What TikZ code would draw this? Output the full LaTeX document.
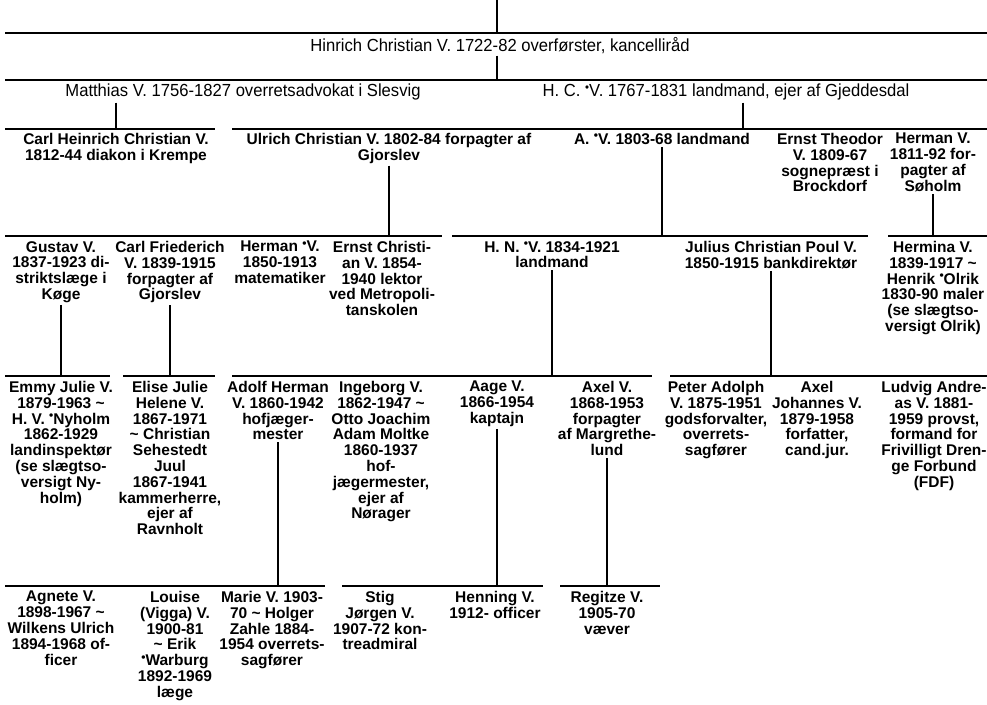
\documentclass[tikz,border=0pt]{standalone}
\usepackage{fontspec}
\setmainfont{Liberation Sans}
\newfontfamily\headfont[FakeStretch=0.95]{Liberation Sans}
\newcommand{\dotmark}{\smash{\raisebox{.55ex}{\fontsize{12}{12}\selectfont•}}}
\newcommand{\marr}{\textasciitilde}
\tikzset{
	person/.style={align=center, anchor=north, inner sep=2pt, font=\fontsize{15.5}{15.8}\selectfont\bfseries},
	head/.style={anchor=north, inner sep=2pt, font=\headfont\fontsize{17.5}{18}\selectfont},
	bar/.style={line width=1.8pt},
	link/.style={line width=1.2pt}
}
\begin{document}
\begin{tikzpicture}[x=1pt,y=-1pt]
	\useasboundingbox[fill=white] (0,0) rectangle (987,704);
	% generation bars
	\coordinate (L1) at (0,33);
	\coordinate (L2) at (0,80);
	\coordinate (L3) at (0,129);
	\coordinate (L4) at (0,236);
	\coordinate (L5) at (0,376);
	\coordinate (L6) at (0,586);
	\draw[bar] (5,33)--(987,33);
	\draw[bar] (5,80)--(987,80);
	\draw[bar] (5,129)--(215,129);
	\draw[bar] (232,129)--(987,129);
	\draw[bar] (5,236)--(442,236);
	\draw[bar] (452,236)--(868,236);
	\draw[bar] (888,236)--(987,236);
	\draw[bar] (5,376)--(110,376);
	\draw[bar] (123,376)--(215,376);
	\draw[bar] (232,376)--(652,376);
	\draw[bar] (670,376)--(987,376);
	\draw[bar] (5,586)--(325,586);
	\draw[bar] (342,586)--(543,586);
	\draw[bar] (560,586)--(660,586);

	% persons
	\node[head] (hinrich) at (500,35) {Hinrich Christian V. 1722-82 overførster, kancelliråd};
	\node[head] (matthias) at (243,82) {Matthias V. 1756-1827 overretsadvokat i Slesvig};
	\node[head] (hc) at (726,82) {H. C. \dotmark{}V. 1767-1831 landmand, ejer af Gjeddesdal};

	\node[person] (carlh) at (116,131) {Carl Heinrich Christian V.\\1812-44 diakon i Krempe};
	\node[person] (ulrich) at (389,131) {Ulrich Christian V. 1802-84 forpagter af\\Gjorslev};
	\node[person] (aa) at (662,131) {A. \dotmark{}V. 1803-68 landmand};
	\node[person] (ernstt) at (830,131) {Ernst Theodor\\V. 1809-67\\sognepræst i\\Brockdorf};
	\node[person] (herman) at (933,131) {Herman V.\\1811-92 for-\\pagter af\\Søholm};

	\node[person] (gustav) at (61,239) {Gustav V.\\1837-1923 di-\\striktslæge i\\Køge};
	\node[person] (carlf) at (170,239) {Carl Friederich\\V. 1839-1915\\forpagter af\\Gjorslev};
	\node[person] (hermanv) at (280,239) {Herman \dotmark{}V.\\1850-1913\\matematiker};
	\node[person] (ernstc) at (382,239) {Ernst Christi-\\an V. 1854-\\1940 lektor\\ved Metropoli-\\tanskolen};
	\node[person] (hn) at (552,239) {H. N. \dotmark{}V. 1834-1921\\landmand};
	\node[person] (julius) at (771,239) {Julius Christian Poul V.\\1850-1915 bankdirektør};
	\node[person] (hermina) at (933,239) {Hermina V.\\1839-1917 \marr\\Henrik \dotmark{}Olrik\\1830-90 maler\\(se slægtso-\\versigt Olrik)};

	\node[person] (emmy) at (61,379) {Emmy Julie V.\\1879-1963 \marr\\H. V. \dotmark{}Nyholm\\1862-1929\\landinspektør\\(se slægtso-\\versigt Ny-\\holm)};
	\node[person] (elise) at (170,379) {Elise Julie\\Helene V.\\1867-1971\\\marr{} Christian\\Sehestedt\\Juul\\1867-1941\\kammerherre,\\ejer af\\Ravnholt};
	\node[person] (adolf) at (278,379) {Adolf Herman\\V. 1860-1942\\hofjæger-\\mester};
	\node[person] (ingeborg) at (381,379) {Ingeborg V.\\1862-1947 \marr\\Otto Joachim\\Adam Moltke\\1860-1937\\hof-\\jægermester,\\ejer af\\Nørager};
	\node[person] (aage) at (497,379) {Aage V.\\1866-1954\\kaptajn};
	\node[person] (axel) at (607,379) {Axel V.\\1868-1953\\forpagter\\af Margrethe-\\lund};
	\node[person] (peter) at (716,379) {Peter Adolph\\V. 1875-1951\\godsforvalter,\\overrets-\\sagfører};
	\node[person] (axelj) at (817,379) {Axel\\Johannes V.\\1879-1958\\forfatter,\\cand.jur.};
	\node[person] (ludvig) at (934,379) {Ludvig Andre-\\as V. 1881-\\1959 provst,\\formand for\\Frivilligt Dren-\\ge Forbund\\(FDF)};

	\node[person] (agnete) at (61,589) {Agnete V.\\1898-1967 \marr\\Wilkens Ulrich\\1894-1968 of-\\ficer};
	\node[person] (louise) at (175,589) {Louise\\(Vigga) V.\\1900-81\\\marr{} Erik\\\dotmark{}Warburg\\1892-1969\\læge};
	\node[person] (marie) at (272,589) {Marie V. 1903-\\70 \marr{} Holger\\Zahle 1884-\\1954 overrets-\\sagfører};
	\node[person] (stig) at (380,589) {Stig\\Jørgen V.\\1907-72 kon-\\treadmiral};
	\node[person] (henning) at (495,589) {Henning V.\\1912- officer};
	\node[person] (regitze) at (607,589) {Regitze V.\\1905-70\\væver};

	% descent lines
	\coordinate (top) at (497,0);
	\coordinate (hcdrop) at (743,0);
	\draw[link] (top)--(top |- L1);
	\draw[link] (hinrich.south -| top)--(top |- L2);
	\draw[link] (matthias.south -| carlh)--(carlh |- L3);
	\draw[link] (hc.south -| hcdrop)--(hcdrop |- L3);
	\draw[link] (ulrich.south)--(ulrich.south |- L4);
	\draw[link] (aa.south)--(aa.south |- L4);
	\draw[link] (herman.south)--(herman.south |- L4);
	\draw[link] (gustav.south)--(gustav.south |- L5);
	\draw[link] (carlf.south)--(carlf.south |- L5);
	\draw[link] (hn.south)--(hn.south |- L5);
	\draw[link] (julius.south)--(julius.south |- L5);
	\draw[link] (adolf.south)--(adolf.south |- L6);
	\draw[link] (aage.south)--(aage.south |- L6);
	\draw[link] (axel.south)--(axel.south |- L6);
\end{tikzpicture}
\end{document}
